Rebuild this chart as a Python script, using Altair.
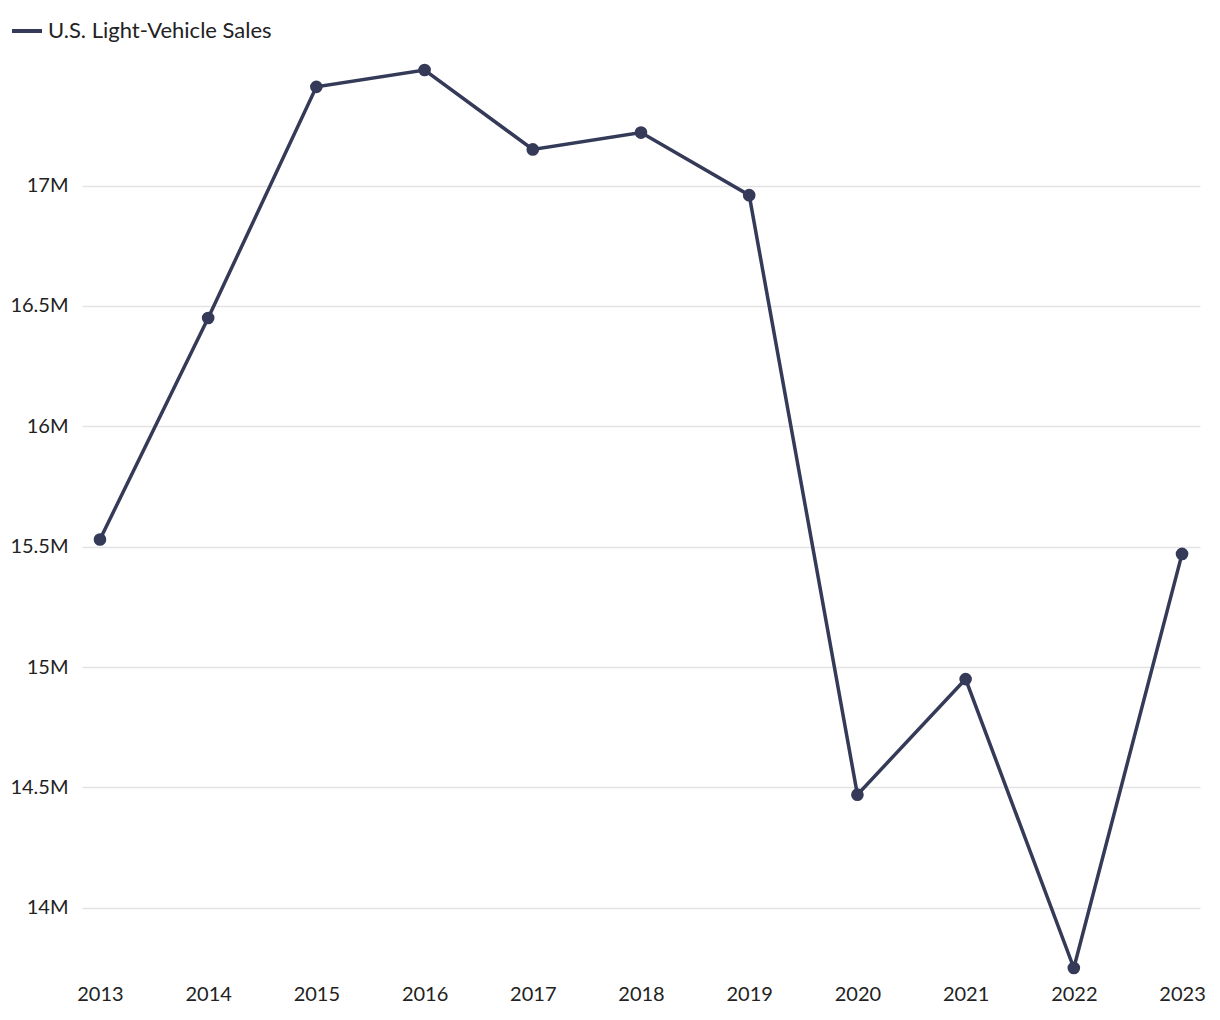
import altair as alt
import pandas as pd

years = ["2013", "2014", "2015", "2016", "2017", "2018", "2019", "2020", "2021", "2022", "2023"]
sales = [15.53, 16.45, 17.41, 17.48, 17.15, 17.22, 16.96, 14.47, 14.95, 13.75, 15.47]
series = "U.S. Light-Vehicle Sales"

df = pd.DataFrame({"year": years, "sales": [v * 1e6 for v in sales], "series": series})

FONT = "Lato"
COLOR = "#343a57"

x = alt.X("year:O", title=None,
          scale=alt.Scale(type="point", padding=0.166),
          axis=alt.Axis(labelAngle=0, ticks=False, domain=False, grid=False,
                        labelFontSize=20, labelColor="#222222", labelPadding=16, labelFont=FONT))
y = alt.Y("sales:Q", title=None,
          scale=alt.Scale(domain=[13.75e6, 17.48e6], nice=False, zero=False),
          axis=alt.Axis(values=[14e6, 14.5e6, 15e6, 15.5e6, 16e6, 16.5e6, 17e6],
                        labelExpr="format(datum.value / 1e6, '~g') + 'M'",
                        ticks=False, domain=False, grid=True, gridColor="#e3e3e3", gridWidth=1.5,
                        labelFontSize=20, labelColor="#222222", labelPadding=14, labelFont=FONT))
color = alt.Color("series:N", title=None,
                  scale=alt.Scale(domain=[series], range=[COLOR]),
                  legend=alt.Legend(orient="none", legendX=-72, legendY=-56, symbolType="stroke",
                                    symbolStrokeWidth=4, symbolSize=900, labelFontSize=22,
                                    labelLimit=0, labelFont=FONT, labelColor="#222222", labelOffset=4))

base = alt.Chart(df).encode(x=x, y=y, color=color)
line = base.mark_line(strokeWidth=3.5)
points = base.mark_point(filled=True, size=160, opacity=1)

chart = alt.layer(line, points).properties(
    width=1118, height=898,
    autosize=alt.AutoSizeParams(type="none"),
    padding={"left": 74, "top": 62, "right": 12, "bottom": 40},
).configure(font=FONT).configure_view(stroke=None, strokeWidth=0)

chart.save("out.html", embed_options={"renderer": "svg", "actions": False})
